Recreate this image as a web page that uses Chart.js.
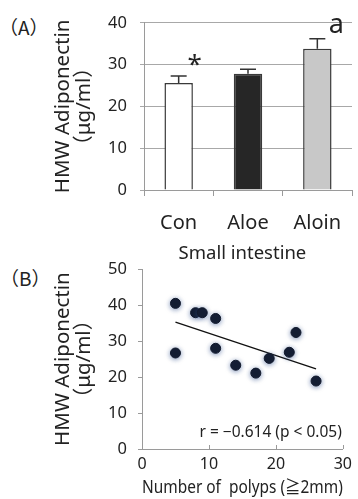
<!DOCTYPE html>
<html>
<head>
<meta charset="utf-8">
<script src="https://cdn.jsdelivr.net/npm/chart.js@4"></script>
<style>
  body { margin: 0; background: #fff; width: 358px; height: 499px; position: relative; overflow: hidden; }
  #boxA { position: absolute; left: 0; top: 0; }
  #boxB { position: absolute; left: 0; top: 238px; }
  .tag { position: absolute; font-family: "Noto Sans CJK JP", sans-serif; font-size: 19px; color: #222; line-height: 1; }
</style>
</head>
<body>
<div class="tag" style="left:-1px;top:17px">（A）</div>
<div class="tag" style="left:0px;top:268px">（B）</div>
<div id="boxA"><canvas id="chartA" width="358" height="238"></canvas></div>
<div id="boxB"><canvas id="chartB" width="358" height="261"></canvas></div>
<script>
var FONT = '"Noto Sans", "Noto Sans CJK JP", sans-serif';

// panel A: bar chart
var groups = ["Con", "Aloe", "Aloin"];
var means = [25.6, 27.8, 33.8];
var errors = [1.7, 1.1, 2.4];
var barColors = ["#ffffff", "#262626", "#c8c8c8"];
var marks = ["*", "", "a"];

// panel B: scatter
var polyps = [5, 5, 8, 9, 11, 11, 14, 17, 19, 22, 23, 26];
var adipo = [40.5, 26.7, 37.9, 37.9, 36.3, 28.0, 23.3, 21.1, 25.2, 26.9, 32.4, 18.9];
var fitX = [5, 26];
var fitY = [35.3, 22.3];
var rText = "r = −0.614 (p < 0.05)";

var yTitle = ["HMW Adiponectin", "（μg/ml）"];

var errorBars = {
    id: "errorBars",
    afterDatasetsDraw: function (chart) {
        var ctx = chart.ctx;
        var y = chart.scales.y;
        var meta = chart.getDatasetMeta(0);
        ctx.save();
        ctx.strokeStyle = "#333";
        ctx.lineWidth = 1.5;
        meta.data.forEach(function (bar, i) {
            var top = y.getPixelForValue(means[i] + errors[i]);
            ctx.beginPath();
            ctx.moveTo(bar.x, bar.y);
            ctx.lineTo(bar.x, top);
            ctx.moveTo(bar.x - 8, top);
            ctx.lineTo(bar.x + 8, top);
            ctx.stroke();
            ctx.fillStyle = "#222";
            ctx.textAlign = "center";
            ctx.textBaseline = "alphabetic";
            if (marks[i] == "*") {
                ctx.font = "26px " + FONT;
                ctx.fillText("*", bar.x + 16, top - 3);
            } else if (marks[i]) {
                ctx.font = "27px " + FONT;
                ctx.fillText(marks[i], bar.x + 19, top - 6);
            }
        });
        ctx.restore();
    }
};

new Chart("chartA", {
    type: "bar",
    data: {
        labels: groups,
        datasets: [{
            data: means,
            backgroundColor: barColors,
            borderColor: "#3a3a3a",
            borderWidth: 1.5,
            categoryPercentage: 1,
            barPercentage: 0.41
        }]
    },
    options: {
        responsive: false,
        animation: false,
        layout: { padding: { top: 13, right: 6, left: 0, bottom: 0 } },
        plugins: { legend: { display: false }, tooltip: { enabled: false } },
        scales: {
            x: {
                grid: { drawOnChartArea: false, offset: true, tickLength: 6, color: "#9a9a9a" },
                border: { color: "#9a9a9a" },
                ticks: { color: "#222", font: { size: 20, family: FONT }, padding: 15 },
                afterFit: function (s) { s.height = 48; }
            },
            y: {
                min: 0, max: 40,
                ticks: { stepSize: 10, color: "#222", font: { size: 16.5, family: FONT }, padding: 13 },
                grid: { color: "#a8a8a8", tickLength: 4 },
                border: { color: "#9a9a9a" },
                title: { display: true, text: yTitle, color: "#222", font: { size: 20.5, family: FONT, lineHeight: 1.05 }, padding: { top: 52 } },
                afterFit: function (s) { s.width = 144; }
            }
        }
    },
    plugins: [errorBars]
});

var glow = {
    id: "glow",
    beforeDatasetDraw: function (chart, args) {
        if (args.index !== 0) return;
        chart.ctx.save();
        chart.ctx.shadowColor = "rgba(50,80,140,0.6)";
        chart.ctx.shadowBlur = 5;
        chart.ctx.shadowOffsetY = 1;
    },
    afterDatasetDraw: function (chart, args) {
        if (args.index !== 0) return;
        chart.ctx.restore();
    }
};

var extrasB = {
    id: "extrasB",
    afterDraw: function (chart) {
        var ctx = chart.ctx;
        var x = chart.scales.x, y = chart.scales.y;
        ctx.save();
        // inward tick marks on x axis
        ctx.strokeStyle = "#9a9a9a";
        ctx.lineWidth = 1;
        x.ticks.forEach(function (t) {
            if (t.value === 0) return;
            var px = Math.round(x.getPixelForValue(t.value)) + 0.5;
            ctx.beginPath();
            ctx.moveTo(px, y.bottom);
            ctx.lineTo(px, y.bottom - 4);
            ctx.stroke();
        });
        ctx.fillStyle = "#222";
        ctx.font = "15.5px " + FONT;
        ctx.textAlign = "right";
        ctx.textBaseline = "middle";
        ctx.fillText(rText, chart.chartArea.right - 1, y.getPixelForValue(4.5));
        ctx.restore();
    }
};

new Chart("chartB", {
    type: "scatter",
    data: {
        datasets: [{
            data: polyps.map(function (v, i) { return { x: v, y: adipo[i] }; }),
            backgroundColor: "#121a2c",
            borderColor: "#121a2c",
            pointRadius: 5,
            order: 1
        }, {
            type: "line",
            data: fitX.map(function (v, i) { return { x: v, y: fitY[i] }; }),
            borderColor: "#111",
            borderWidth: 1.3,
            pointRadius: 0,
            fill: false,
            order: 2
        }]
    },
    options: {
        responsive: false,
        animation: false,
        layout: { padding: { top: 0, right: 10, left: 0, bottom: 0 } },
        plugins: {
            legend: { display: false },
            tooltip: { enabled: false },
            title: {
                display: true, text: "Small intestine", fullSize: false, color: "#222",
                font: { size: 18.5, family: FONT, weight: "normal" },
                padding: { top: 5, bottom: 4 }
            }
        },
        scales: {
            x: {
                type: "linear", min: 0, max: 30,
                ticks: { stepSize: 10, color: "#222", font: { size: 16, family: FONT }, padding: 6 },
                grid: { display: false, drawTicks: false },
                border: { color: "#9a9a9a" },
                title: { display: true, text: "Number of  polyps (≧2mm)", color: "#222", font: { size: 17.5, family: FONT }, padding: { bottom: 0 } },
                afterFit: function (s) { s.height = 50; }
            },
            y: {
                min: 0, max: 50,
                ticks: { stepSize: 10, color: "#222", font: { size: 16.5, family: FONT }, padding: 11 },
                grid: { drawOnChartArea: false, tickLength: 4, color: "#9a9a9a" },
                border: { color: "#9a9a9a" },
                title: { display: true, text: yTitle, color: "#222", font: { size: 20.5, family: FONT, lineHeight: 1.05 }, padding: { top: 52 } },
                afterFit: function (s) { s.width = 142; }
            }
        }
    },
    plugins: [glow, extrasB]
});
</script>
</body>
</html>
